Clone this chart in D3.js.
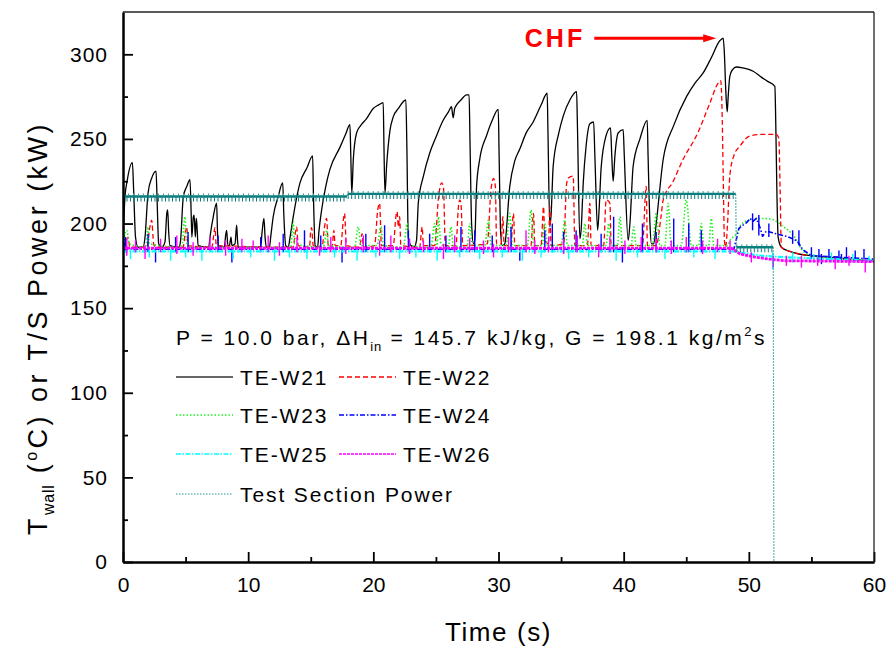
<!DOCTYPE html>
<html><head><meta charset="utf-8">
<script src="https://cdn.jsdelivr.net/npm/d3@7"></script>
<style>
body{margin:0;background:#fff}
text{font-family:"Liberation Sans",Arial,Helvetica,sans-serif;fill:#000}
</style>
</head><body>
<svg id="c" width="892" height="653"></svg>
<script>
// ---------------- DATA ----------------
const xTicks = [0,10,20,30,40,50,60];
const xMinorTicks = [5,15,25,35,45,55];
const yTicks = [0,50,100,150,200,250,300];
const yMinorTicks = [25,75,125,175,225,275];
const seriesNames = ["TE-W21","TE-W22","TE-W23","TE-W24","TE-W25","TE-W26","Test Section Power"];
const conditionText = ["P = 10.0 bar, ","\u0394H","in"," = 145.7 kJ/kg, G = 198.1 kg/m","2","s"];

// TE-W21 wall temperature [time s, T degC]
const teW21 = [[0,188],[0.15,215],[0.35,226],[0.75,236],[0.85,220],[1.0,192],[1.2,186],[1.6,186],[1.76,192],[2.0,218],[2.3,227],[2.64,231],[2.72,215],[2.85,188],[3.1,186],[3.35,189],[3.5,206],[3.57,208],[3.65,195],[3.75,187],[4.5,186],[4.6,190],[4.82,216],[5.1,222],[5.35,226],[5.45,205],[5.5,192],[5.62,204],[5.68,205],[5.78,192],[5.85,203],[5.9,200],[6.0,187],[6.85,186],[6.95,192],[7.21,204],[7.48,212],[7.55,195],[7.62,187],[8.1,186],[8.2,193],[8.28,196],[8.38,187],[8.5,187],[8.63,192],[8.7,187],[8.95,188],[9.08,199],[9.15,190],[9.22,186],[11.0,186],[11.1,194],[11.26,203],[11.35,192],[11.45,186],[11.7,186],[11.8,192],[12.0,204],[12.4,216],[12.76,224],[12.85,205],[13.0,187],[13.2,186],[13.35,192],[13.6,204],[14.14,224],[14.7,233],[15.15,240],[15.22,215],[15.35,187],[15.55,186],[15.65,195],[15.87,208],[16.2,222],[16.53,232],[17.33,245],[17.8,253],[18.13,258.5],[18.2,240],[18.28,218],[18.4,238],[18.66,253.5],[19.0,258],[19.46,262],[19.99,268],[20.4,270],[20.79,271.5],[20.85,245],[20.93,218],[21.06,234],[21.33,255],[21.59,263],[22.0,268],[22.6,273],[22.68,245],[22.79,192],[23.0,187],[23.25,186],[23.45,190],[23.59,212],[24.0,228],[24.52,242],[25.0,251],[25.58,261],[26.0,266],[26.25,269],[26.32,265],[26.38,262.5],[26.5,268],[26.6,269.5],[27.0,273],[27.45,276],[27.65,276],[27.72,250],[27.85,200],[28.0,188],[28.1,190],[28.25,222],[28.5,238],[29.05,252],[29.5,261],[29.98,267.5],[30.05,240],[30.17,195],[30.3,187],[30.5,188],[30.9,222],[31.3,237],[31.7,244],[32.24,254],[32.77,260],[33.4,270],[33.89,277],[33.95,255],[34.1,198],[34.2,205],[34.37,234],[34.8,253],[35.17,263.5],[35.7,273],[36.24,278],[36.3,260],[36.5,191],[36.6,196],[36.77,224],[37.0,246],[37.3,259],[37.6,260],[37.7,240],[37.92,196],[38.05,210],[38.2,233],[38.6,252],[38.95,256.5],[39.05,240],[39.16,225],[39.3,240],[39.56,253.5],[39.96,255.5],[40.05,240],[40.36,190],[40.5,200],[40.76,234],[41.3,250],[41.88,261],[41.95,240],[42.1,200],[42.22,188],[42.4,188],[42.6,200],[43.16,238],[44.0,258],[45.02,275],[45.7,283],[46.35,289],[47.0,298],[47.68,308],[47.95,309.5],[48.05,300],[48.15,280],[48.27,266],[48.35,275],[48.48,287],[48.7,291],[49.0,292.5],[49.5,292],[50.35,290],[51.0,286.5],[51.5,284],[52.08,281],[52.15,260],[52.25,215],[52.34,192],[52.6,186],[53.27,183.5],[54.0,182],[55,181],[56.5,180],[58,179],[60,178]];

// TE-W22
const teW22 = [[0,186],[0.25,190],[0.4,192],[0.55,186],[1.9,186],[2.15,198],[2.29,202],[2.45,188],[2.6,186],[4.8,186],[5.0,196],[5.09,198],[5.2,187],[7.1,186],[7.3,196],[7.35,197.5],[7.45,187],[13.6,186],[13.8,196],[13.87,198],[14.0,187],[14.9,186],[15.0,196],[15.07,197.5],[15.2,187],[15.9,186],[16.1,198],[16.27,203],[16.4,187],[16.7,186],[16.85,196],[16.95,187],[17.4,187],[17.6,202],[17.7,206],[17.85,187],[18.9,186],[19.1,194],[19.2,186],[20.1,187],[20.35,208],[20.5,212],[20.65,187],[21.6,187],[21.8,204],[21.9,207],[22.0,198],[22.1,204],[22.2,187],[23.7,186],[23.9,198],[24.0,187],[24.9,187],[25.2,215],[25.45,224],[25.6,222],[25.75,187],[26.6,187],[26.8,210],[26.9,214],[27.0,212],[27.15,187],[29.1,188],[29.4,220],[29.6,226.6],[29.75,222],[29.85,188],[30.2,188],[30.35,204],[30.45,187],[31.0,187],[31.15,204],[31.2,206],[31.3,187],[32.6,187],[32.75,204],[32.8,206],[32.9,187],[33.4,187],[33.6,210],[33.7,190],[34.0,188],[34.1,210],[34.2,187],[35.2,188],[35.45,224],[35.6,227],[35.97,228],[36.1,187],[37.1,187],[37.3,212],[37.4,187],[38.4,187],[38.6,214],[38.9,212],[39.0,187],[41.5,187],[41.8,222],[41.9,187],[42.6,187],[43.0,205],[43.16,214],[43.96,225],[44.75,238],[45.82,252],[46.88,271],[47.55,283],[47.75,284.5],[47.85,270],[47.95,230],[48.05,190],[48.15,186],[48.3,200],[48.48,228],[48.8,240],[49.28,245.7],[50.08,251.7],[51.0,252.7],[52.2,252.7],[52.4,250],[52.5,220],[52.6,186],[53.5,183],[55,181],[60,178]];

// TE-W23
const teW23 = [[0,186],[0.1,192],[0.3,196],[0.5,188],[1.8,186],[2.0,198],[2.1,188],[4.7,186],[4.9,202],[4.95,204],[5.05,190],[5.2,186],[13.4,186],[13.6,201],[13.7,188],[16.0,186],[16.3,196],[16.4,187],[18.5,186],[18.8,198],[19.0,187],[20.3,187],[20.6,198],[20.8,187],[22.4,186],[22.7,200],[22.9,187],[24.6,186],[24.9,200],[25.1,187],[25.2,204],[25.4,188],[26.0,186],[26.2,198],[26.4,187],[27.5,186],[27.7,200],[27.9,187],[28.9,187],[29.2,202],[29.4,187],[30.6,187],[30.9,206],[31.1,187],[32.3,187],[32.6,208],[32.8,187],[33.5,187],[33.7,200],[33.9,187],[35.0,187],[35.3,202],[35.5,187],[36.7,187],[36.9,200],[37.1,187],[38.6,187],[38.8,200],[39.0,187],[39.5,187],[39.7,204],[39.9,187],[40.6,187],[40.8,198],[41.0,187],[42.3,187],[42.6,206],[42.9,187],[43.3,187],[43.55,212],[43.8,187],[44.6,187],[45.0,214],[45.4,187],[46.0,187],[46.2,200],[46.4,187],[46.8,187],[47.0,203],[47.2,187],[48.3,187],[48.5,190],[49.0,194],[49.3,198.4],[49.8,201.5],[50.35,202.4],[51.2,203],[51.9,202.4],[52.7,198.4],[53.3,195],[53.8,190.5],[54.2,185],[55,181],[60,178]];

// TE-W24 (trend + spikes [t, low, high])
const teW24 = [[0,184.8],[48.8,184.8],[49.0,190.5],[49.2,197],[49.4,198.4],[49.8,200.4],[50.1,203],[50.35,201.4],[50.6,203],[50.9,197.5],[51.1,192.5],[51.4,195.5],[51.9,194.5],[52.4,193.5],[53.0,192.5],[53.5,191],[53.9,189.5],[54.3,184.6],[55,181],[60,179]];
const teW24Spikes = [[0.2,183,192],[2.0,183,194],[2.6,177,186],[4.2,183,192],[5.2,183,195],[7.6,183,193],[8.7,177,186],[11.0,183,192],[12.8,183,194],[14.5,183,196],[15.8,183,193],[17.5,177,186],[19.4,183,194],[20.9,183,199],[22.8,183,196],[24.5,183,194],[25.8,183,193],[27.0,183,198],[28.1,183,196],[29.5,183,193],[31.0,183,198],[31.7,178,186],[33.7,183,196],[34.3,183,200],[35.2,183,195],[36.2,183,196],[38.2,183,194],[39.2,183,204],[39.9,177,186],[41.5,183,200],[42.6,183,195],[44.0,183,203],[45.2,183,200],[46.2,183,196],[50.3,196,206],[50.8,193,205],[51.6,192,200],[53.5,188,196],[54.0,187,196],[55.0,179,186],[55.6,178,185],[55.8,176,182],[56.4,179,185],[57.2,179,184],[57.4,177,182],[57.8,178,186],[58.5,179,184],[59.2,179,185]];

// TE-W25
const teW25 = [[0,183.5],[48.8,183.5],[50,182],[51,181],[52,180.5],[53,180],[55,179.5],[60,178]];
const teW25Spikes = [[0.6,179,185],[2.1,180,185],[3.8,178,185],[5.0,180,185],[6.3,178,185],[8.8,179,185],[10.2,180,185],[12.1,178,185],[13.3,180,185],[14.7,179,185],[16.9,180,185],[18.7,178,185],[20.2,180,185],[22.1,179,185],[23.4,180,185],[25.1,178,185],[26.9,180,185],[28.5,179,185],[30.3,180,185],[31.9,178,185],[33.4,180,185],[35.6,179,185],[37.2,180,185],[39.4,178,185],[41.1,180,185],[43.3,179,185],[45.6,180,185],[47.3,179,185],[51.9,173,183],[53.5,177,183],[55.2,177,182],[56.6,177,183],[58.3,177,182],[59.6,177,181]];

// TE-W26
const teW26 = [[0,185.5],[48.6,185.5],[49.3,182],[50.6,180],[51.9,178.7],[53,178],[60,177.5]];
const teW26Spikes = [[0.3,181,191],[1.0,183,190],[1.76,179,187],[3.0,183,191],[4.3,182,193],[5.6,181,189],[6.95,184,192],[8.2,181,190],[9.5,183,191],[10.4,184,190],[11.6,183,193],[12.5,181,189],[13.9,183,192],[15.7,181,187],[16.6,183,192],[17.8,182,191],[19.2,183,193],[20.5,181,190],[21.4,183,193],[22.9,182,191],[24.0,183,190],[25.6,179,188],[26.5,183,193],[27.7,183,191.5],[28.8,182,190],[29.6,180,188],[30.8,183,192],[32.2,183,196],[32.9,182,190],[34.0,183,192],[35.2,182,191],[36.3,183,193],[38.0,180,188],[38.9,183,192],[40.1,182,190],[41.4,183,192],[42.6,183,191],[43.8,182,190],[45.0,183,192],[46.3,182,190],[47.5,183,191],[48.5,182,190],[50.2,177,183],[51.95,174,181],[53.0,175,181],[54.2,174,181],[55.5,175,180],[56.9,173,180],[58.0,175,181],[59.3,171,179]];

// Test section power [time s, kW]
const tsPower = [[0,216],[17.9,216],[17.95,217.5],[48.95,217.5],[49.0,186],[51.95,186],[52.0,0]];

// CHF annotation point
const chfPoint = [47.95,309.5];

// ---------------- CHART ----------------
const svg = d3.select("#c");
const L=123, R=874, T=12, B=562;
const x = d3.scaleLinear().domain([0,60]).range([L,R]);
const y = d3.scaleLinear().domain([0,325]).range([B,T]);

svg.append("defs").append("clipPath").attr("id","pc")
  .append("rect").attr("x",L).attr("y",T).attr("width",R-L).attr("height",B-T);

const line = d3.line().x(d=>x(d[0])).y(d=>y(d[1])).curve(d3.curveMonotoneX);
const lineLin = d3.line().x(d=>x(d[0])).y(d=>y(d[1]));

const styles = [
  {color:"#000000", w:1.3, dash:null},
  {color:"#ff0000", w:1.3, dash:"5,3"},
  {color:"#22ee22", w:1.6, dash:"1.5,2"},
  {color:"#0000ff", w:1.6, dash:"5,2,1.5,2"},
  {color:"#00ffff", w:2.2, dash:"5,1.5,1.5,1.5"},
  {color:"#ff00ff", w:2.8, dash:"3,1"},
  {color:"#008080", w:1.2, dash:"1.5,1.5"}
];

const g = svg.append("g").attr("clip-path","url(#pc)");

function drawSeries(data, s, curved){
  g.append("path").attr("d",(curved?line:lineLin)(data)).attr("fill","none")
   .attr("stroke",s.color).attr("stroke-width",s.w)
   .attr("stroke-dasharray",s.dash).attr("stroke-linejoin","round");
}
function drawSpikes(spk, s){
  g.selectAll(null).data(spk).enter().append("line")
   .attr("x1",d=>x(d[0])).attr("x2",d=>x(d[0]))
   .attr("y1",d=>y(d[1])).attr("y2",d=>y(d[2]))
   .attr("stroke",s.color).attr("stroke-width",1.4);
}

drawSeries(teW21, styles[0], true);
drawSeries(teW22, styles[1], true);
drawSeries(teW23, styles[2], true);
drawSeries(teW24, styles[3], false);
drawSpikes(teW24Spikes, styles[3]);
drawSeries(teW25, styles[4], false);
drawSpikes(teW25Spikes, styles[4]);
drawSeries(teW26, styles[5], false);
drawSpikes(teW26Spikes, styles[5]);

// power: thin dotted full trace + dense noisy band on plateaus
g.append("path").attr("d",lineLin(tsPower)).attr("fill","none")
 .attr("stroke","#2a9a9a").attr("stroke-width",1.2).attr("stroke-dasharray","1.5,1.5");
for(let i=0;i<tsPower.length-1;i++){
  const a=tsPower[i], b=tsPower[i+1];
  if(a[1]===b[1]){
    const seg=[a,b];
    g.append("path").attr("d",lineLin(seg)).attr("fill","none")
     .attr("stroke","#0a7d7d").attr("stroke-width",2.4);
    g.append("path").attr("d",lineLin(seg)).attr("fill","none")
     .attr("transform","translate(0,3)")
     .attr("stroke","#0a7d7d").attr("stroke-width",4).attr("stroke-dasharray","1,2.5");
    g.append("path").attr("d",lineLin(seg)).attr("fill","none")
     .attr("transform","translate(0,-2)")
     .attr("stroke","#3a9a9a").attr("stroke-width",2).attr("stroke-dasharray","1,4");
  }
}

// ---- axes ----
const fontTick = 21;
const xAxis = d3.axisBottom(x).tickValues(xTicks).tickSizeInner(-10).tickSizeOuter(0).tickPadding(15);
const xAxisMinor = d3.axisBottom(x).tickValues(xMinorTicks).tickSizeInner(-5).tickSizeOuter(0).tickFormat("");
const yAxis = d3.axisLeft(y).tickValues(yTicks).tickSizeInner(-10).tickSizeOuter(0).tickPadding(15);
const yAxisMinor = d3.axisLeft(y).tickValues(yMinorTicks).tickSizeInner(-5).tickSizeOuter(0).tickFormat("");

function styleAxis(sel){
  sel.select(".domain").attr("stroke","#000").attr("stroke-width",2);
  sel.selectAll(".tick line").attr("stroke","#000").attr("stroke-width",1.8);
  sel.selectAll(".tick text").attr("font-size",fontTick).attr("font-family",'"Liberation Sans",Arial,sans-serif').attr("fill","#000");
}
svg.append("g").attr("transform",`translate(0,${B})`).call(xAxisMinor).call(styleAxis);
svg.append("g").attr("transform",`translate(0,${B})`).call(xAxis).call(styleAxis);
svg.append("g").attr("transform",`translate(${L},0)`).call(yAxisMinor).call(styleAxis);
svg.append("g").attr("transform",`translate(${L},0)`).call(yAxis).call(styleAxis)
  .selectAll(".tick text").attr("letter-spacing","1px");

// top & right border
svg.append("line").attr("x1",L).attr("x2",R).attr("y1",T).attr("y2",T).attr("stroke","#222").attr("stroke-width",1.3);
svg.append("line").attr("x1",R).attr("x2",R).attr("y1",T).attr("y2",B).attr("stroke","#222").attr("stroke-width",1.3);

// axis titles
svg.append("text").attr("x",(L+R)/2).attr("y",641).attr("text-anchor","middle")
  .attr("font-size",26).attr("letter-spacing","1.6px").text("Time (s)");

const yt = svg.append("text").attr("transform","translate(47,328) rotate(-90)")
  .attr("text-anchor","middle").attr("font-size",27).attr("letter-spacing","3.5px");
yt.append("tspan").text("T");
yt.append("tspan").attr("font-size",16).attr("letter-spacing","0.8px").attr("dy",7).text("wall");
yt.append("tspan").attr("dy",-7).text(" (");
yt.append("tspan").attr("font-size",16).attr("dy",-10).text("o");
yt.append("tspan").attr("dy",10).text("C) or T/S Power (kW)");

// condition text
const ct = svg.append("text").attr("x",176).attr("y",345).attr("font-size",21).attr("letter-spacing","2.5px");
ct.append("tspan").text(conditionText[0]);
ct.append("tspan").text(conditionText[1]);
ct.append("tspan").attr("font-size",13).attr("letter-spacing","0.8px").attr("dy",6).text(conditionText[2]);
ct.append("tspan").attr("dy",-6).text(conditionText[3]);
ct.append("tspan").attr("font-size",13).attr("dy",-9).text(conditionText[4]);
ct.append("tspan").attr("dy",9).text(conditionText[5]);

// legend
const legPos = [[176,377],[339,377],[176,415],[339,415],[176,454],[339,454],[176,494]];
seriesNames.forEach((n,i)=>{
  const [lx,ly]=legPos[i];
  const s=styles[i];
  svg.append("line").attr("x1",lx).attr("x2",lx+57).attr("y1",ly).attr("y2",ly)
    .attr("stroke", i===6 ? "#2a9a9a" : (i===0 ? "#333" : s.color))
    .attr("stroke-width", Math.min(s.w,1.5)).attr("stroke-dasharray",s.dash);
  svg.append("text").attr("x",lx+64).attr("y",ly+8).attr("font-size",21)
    .attr("letter-spacing","1.9px").text(n);
});

// CHF annotation
const tipX = x(chfPoint[0]) - 7, tipY = y(chfPoint[1]);
svg.append("text").attr("x",x(32.1)).attr("y",tipY+9).attr("font-size",25).attr("font-weight","bold")
  .attr("letter-spacing","3px").style("fill","#ff0000").text("CHF");
svg.append("line").attr("x1",x(37.65)).attr("x2",tipX-10).attr("y1",tipY).attr("y2",tipY)
  .attr("stroke","#ff0000").attr("stroke-width",3);
svg.append("path").attr("d",`M${tipX},${tipY} L${tipX-13},${tipY-4} L${tipX-13},${tipY+4} Z`).attr("fill","#ff0000");
</script>
</body></html>
